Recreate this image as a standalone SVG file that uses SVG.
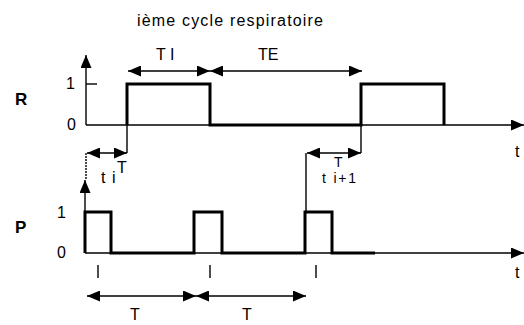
<svg xmlns="http://www.w3.org/2000/svg" width="524" height="325" viewBox="0 0 524 325">
<defs>
<style>
text{font-family:"Liberation Sans",Arial,sans-serif;fill:#000;font-size:16px}
.b{font-weight:bold;font-size:17px}
.s{font-size:14px}
.thin{stroke:#000;stroke-width:1.4;fill:none}
.sig{stroke:#000;stroke-width:3;fill:none;stroke-linejoin:miter}
.dbl{stroke:#000;stroke-width:1.4;fill:none;marker-start:url(#ah);marker-end:url(#ah)}
.ax{stroke:#000;stroke-width:1.4;fill:none;marker-end:url(#ah)}
</style>
<marker id="ah" markerUnits="userSpaceOnUse" markerWidth="14" markerHeight="11" refX="13" refY="5.5" orient="auto-start-reverse">
<path d="M0,0 L13,5.5 L0,11 z" fill="#000"/>
</marker>
</defs>
<rect width="524" height="325" fill="#fff"/>
<text id="title" x="137" y="26" textLength="186" lengthAdjust="spacing">ième cycle respiratoire</text>

<g id="R-chart">
<text class="b" x="15" y="105">R</text>
<text x="66" y="89">1</text>
<text x="67" y="130">0</text>
<text x="515" y="157">t</text>
<line class="ax" x1="86" y1="125" x2="86" y2="55"/>
<line class="ax" x1="86" y1="125" x2="524" y2="125"/>
<line class="thin" x1="86" y1="84" x2="97" y2="84"/>
<polyline class="sig" points="127,125 127,84 210,84 210,125 361,125 361,84 444,84 444,125"/>
</g>

<g id="P-chart">
<text class="b" x="15" y="233">P</text>
<text x="57" y="218">1</text>
<text x="57" y="258">0</text>
<text x="515" y="278">t</text>
<line class="ax" x1="85" y1="253" x2="85" y2="180"/>
<line class="ax" x1="85" y1="253" x2="524" y2="253"/>
<polyline class="sig" points="85,253 85,212 111,212 111,253 194,253 194,212 222,212 222,253 305,253 305,212 332,212 332,253 375,253"/>
<line class="thin" x1="98" y1="265" x2="98" y2="278"/>
<line class="thin" x1="210" y1="265" x2="210" y2="278"/>
<line class="thin" x1="316" y1="265" x2="316" y2="278"/>
</g>

<g id="connectors">
<line class="dbl" x1="128" y1="71" x2="210" y2="71"/>
<line class="dbl" x1="210" y1="71" x2="362" y2="71"/>
<line class="thin" x1="127" y1="125" x2="127" y2="153"/>
<line class="thin" x1="361" y1="125" x2="361" y2="153"/>
<line class="dbl" x1="87" y1="153" x2="127" y2="153"/>
<line class="thin" x1="86" y1="153" x2="86" y2="180" stroke-dasharray="2,1"/>
<line class="dbl" x1="307" y1="153" x2="361" y2="153"/>
<line class="thin" x1="306" y1="153" x2="306" y2="212"/>
<line class="dbl" x1="87" y1="296" x2="196" y2="296"/>
<line class="dbl" x1="196" y1="296" x2="306" y2="296"/>
</g>

<g id="labels">
<text x="156" y="60">T I</text>
<text x="258" y="60">TE</text>
<text x="101" y="183" letter-spacing="1">t i</text>
<text x="117" y="173">T</text>
<text class="s" x="334" y="167">T</text>
<text class="s" x="322" y="183" letter-spacing="1.8">t i+1</text>
<text x="130" y="320">T</text>
<text x="242" y="320">T</text>
</g>
</svg>
